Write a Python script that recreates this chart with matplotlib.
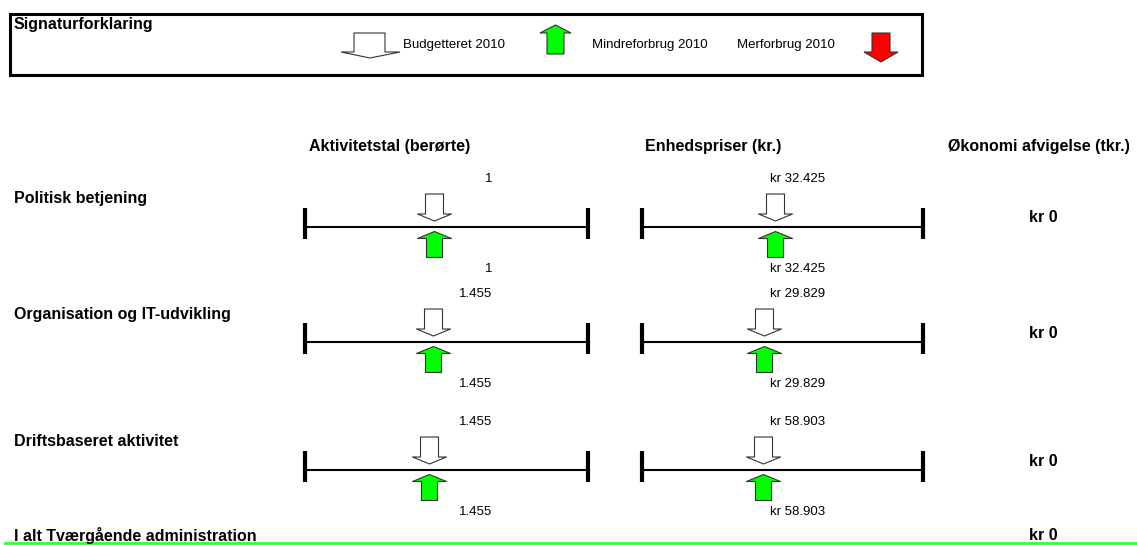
import matplotlib.pyplot as plt
from matplotlib.path import Path
from matplotlib.patches import Polygon, Rectangle

plt.rcParams['font.family'] = ['Liberation Sans', 'DejaVu Sans']

# Data (afleses fra figuren)
raekker = ["Politisk betjening", "Organisation og IT-udvikling", "Driftsbaseret aktivitet"]
aktivitet_budget = [1, 1455, 1455]
aktivitet_regnskab = [1, 1455, 1455]
pris_budget = [32425, 29829, 58903]
pris_regnskab = [32425, 29829, 58903]
afvigelse = [0, 0, 0]
afvigelse_total = 0
total_navn = "I alt Tværgående administration"
# skalaens maksimum for hver bjælke
akt_skala = [2.2, 3220, 3330]
pris_skala = [68500, 68700, 137000]

W, H = 1137, 545
fig = plt.figure(figsize=(W / 100, H / 100), dpi=100)
ax = fig.add_axes([0, 0, 1, 1])
ax.set_xlim(0, W)
ax.set_ylim(H, 0)
ax.axis('off')

groen = '#00ff00'
rod = '#ff0000'
lille = 9.5
stor = 11.5


def dk(v):
    return f"{v:,}".replace(",", ".")


# pile som markører
ned = Path([(-9, 13.5), (9, 13.5), (9, -6.5), (17, -6.5), (0, -13.5),
            (-17, -6.5), (-9, -6.5), (-9, 13.5)], closed=True)
op = Path([(-8, -13), (8, -13), (8, 6), (17, 6), (0, 13),
           (-17, 6), (-8, 6), (-8, -13)], closed=True)
ms = 34 * 72 / 100

# Signaturforklaring
ax.add_patch(Rectangle((10, 14), 912, 61, fill=False, lw=2.2, ec='black'))
ax.text(14, 25, "Signaturforklaring", fontsize=stor, fontweight='bold', va='center')
ax.add_patch(Polygon([(354, 33), (385, 33), (385, 52), (400, 52), (370, 58),
                      (341, 52), (354, 52)], closed=True, fc='white', ec='#333333', lw=0.8))
ax.text(403, 45, "Budgetteret 2010", fontsize=lille, va='center')
ax.add_patch(Polygon([(547, 54), (564, 54), (564, 33), (571, 33), (555.5, 25),
                      (540, 33), (547, 33)], closed=True, fc=groen, ec='#333333', lw=0.8))
ax.text(592, 45, "Mindreforbrug 2010", fontsize=lille, va='center')
ax.text(737, 45, "Merforbrug 2010", fontsize=lille, va='center')
ax.add_patch(Polygon([(872, 33), (890, 33), (890, 52), (898, 52), (881, 62),
                      (864, 52), (872, 52)], closed=True, fc=rod, ec='#333333', lw=0.8))

# Overskrifter
ax.text(309, 147, "Aktivitetstal (berørte)", fontsize=stor, fontweight='bold', va='center')
ax.text(645, 147, "Enhedspriser (kr.)", fontsize=stor, fontweight='bold', va='center')
ax.text(948, 147, "Økonomi afvigelse (tkr.)", fontsize=stor, fontweight='bold', va='center')

bar_y = [227, 342, 470]
navn_y = [199, 315, 441]


def bjaelke(x0, x1, y, skala, budget, regnskab, tekst_budget, tekst_regnskab, tekst_x):
    bx = fig.add_axes([x0 / W, 1 - (y + 40) / H, (x1 - x0) / W, 80 / H])
    bx.set_xlim(0, skala)
    bx.set_ylim(40, -40)
    bx.axis('off')
    bx.plot([0, skala], [0, 0], color='black', lw=1.5, solid_capstyle='butt')
    for xe in (0, skala):
        bx.plot([xe, xe], [-19, 12], color='black', lw=3, solid_capstyle='butt', clip_on=False)
    bx.plot(budget, -20, marker=ned, markersize=ms, mfc='white', mec='#333333', mew=0.8, ls='none')
    bx.plot(regnskab, 17, marker=op, markersize=ms, mfc=groen, mec='#333333', mew=0.8, ls='none')
    ax.text(tekst_x, y - 48, tekst_budget, fontsize=lille, ha='right', va='center')
    ax.text(tekst_x, y + 42, tekst_regnskab, fontsize=lille, ha='right', va='center')


for i, navn in enumerate(raekker):
    y = bar_y[i]
    ax.text(14, navn_y[i], navn, fontsize=stor, fontweight='bold', va='center')
    bjaelke(305, 588, y, akt_skala[i], aktivitet_budget[i], aktivitet_regnskab[i],
            dk(aktivitet_budget[i]), dk(aktivitet_regnskab[i]), 492)
    bjaelke(642, 923, y, pris_skala[i], pris_budget[i], pris_regnskab[i],
            "kr " + dk(pris_budget[i]), "kr " + dk(pris_regnskab[i]), 825)
    ax.text(1043, y - 9, "kr " + dk(afvigelse[i]), fontsize=stor, fontweight='bold',
            ha='center', va='center')

ax.text(14, 535, total_navn, fontsize=stor, fontweight='bold', va='center')
ax.text(1043, 535, "kr " + dk(afvigelse_total), fontsize=stor, fontweight='bold',
        ha='center', va='center')
ax.plot([5, W], [543, 543], color='#33ff33', lw=2)

fig.savefig('out.png', dpi=100)
